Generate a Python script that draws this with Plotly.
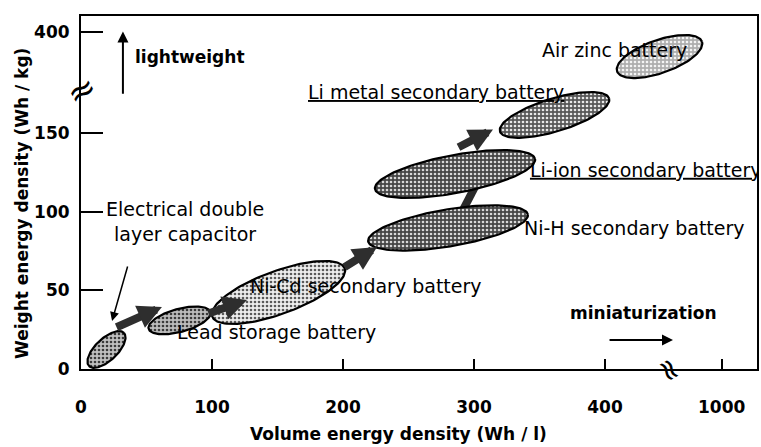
import numpy as np
import plotly.graph_objects as go

# ---------------- data ----------------
# Broken axes: x tick "1000" and y tick "400" sit above the axis breaks.
x_tickvals = [0, 100, 200, 300, 400, 489]
x_ticktext = ["0", "100", "200", "300", "400", "1000"]
y_tickvals = [0, 50, 100, 150, 214]
y_ticktext = ["0", "50", "100", "150", "400"]

batteries = ["Electrical double layer capacitor", "Lead storage battery",
             "Ni-Cd secondary battery", "Ni-H secondary battery",
             "Li-ion secondary battery", "Li metal secondary battery",
             "Air zinc battery"]
# ends of each battery region (volume Wh/l, weight Wh/kg)
vol_low = [6.1, 51.6, 100.2, 219.2, 224.4, 319.8, 409.2]
wt_low = [1.9, 25.6, 33.3, 81.1, 114.4, 151.0, 189.2]
vol_high = [32.8, 98.8, 201.3, 341.1, 346.6, 403.1, 474.0]
wt_high = [22.9, 36.2, 64.0, 98.2, 133.5, 172.0, 208.1]
thickness_px = [22, 23, 43, 37, 38, 33, 33]

# development steps (thick arrows)
step_tail_vol = [26.0, 96.2, 200.0, 287.0]
step_tail_wt = [26.1, 35.0, 64.2, 140.5]
step_head_vol = [61.8, 126.7, 226.0, 314.5]
step_head_wt = [39.4, 43.9, 77.6, 152.2]
link_vol = [291.6, 301.5]   # Ni-H -> Li-ion connector
link_wt = [101.1, 117.0]

# ---------------- layout geometry ----------------
W, H = 761, 447
ML, MR, MT, MB = 81, 4, 16, 78
x_range = [0, 516.0]
y_range = [0, 224.4]
kx = (W - ML - MR) / (x_range[1] - x_range[0])
ky = (H - MT - MB) / (y_range[1] - y_range[0])

fill_bg = ["#c0c0c0", "#bcbcbc", "#eeeeee", "#454545", "#454545", "#585858", "#aeaeae"]
fill_fg = ["#3a3a3a", "#3a3a3a", "#5a5a5a", "#d8d8d8", "#d8d8d8", "#e8e8e8", "#f4f4f4"]


def ellipse(x0, y0, x1, y1, th):
    X0, Y0, X1, Y1 = x0 * kx, y0 * ky, x1 * kx, y1 * ky
    cx, cy = (X0 + X1) / 2, (Y0 + Y1) / 2
    a = np.hypot(X1 - X0, Y1 - Y0) / 2
    ang = np.arctan2(Y1 - Y0, X1 - X0)
    b = th / 2
    t = np.linspace(0, 2 * np.pi, 140)
    ex = cx + a * np.cos(t) * np.cos(ang) - b * np.sin(t) * np.sin(ang)
    ey = cy + a * np.cos(t) * np.sin(ang) + b * np.sin(t) * np.cos(ang)
    return ex / kx, ey / ky


fig = go.Figure()

# connector Ni-H -> Li-ion
fig.add_trace(go.Scatter(x=link_vol, y=link_wt, mode="lines",
                         line=dict(color="#2a2a2a", width=8), hoverinfo="skip",
                         showlegend=False))

for i, name in enumerate(batteries):
    ex, ey = ellipse(vol_low[i], wt_low[i], vol_high[i], wt_high[i], thickness_px[i])
    fig.add_trace(go.Scatter(
        x=ex, y=ey, mode="lines", fill="toself", name=name,
        line=dict(color="black", width=2.2),
        fillcolor=fill_bg[i],
        fillpattern=dict(shape=".", bgcolor=fill_bg[i], fgcolor=fill_fg[i],
                         size=4, solidity=0.35, fillmode="replace"),
        hoverinfo="name", showlegend=False))

LAB = dict(family="DejaVu Sans", size=19, color="black")
BOLD = dict(family="DejaVu Sans", size=17, color="black")

# Li-ion label clipped by the plot frame
fig.add_trace(go.Scatter(x=[342.7], y=[125.2], mode="text",
                         text=["<u>Li-ion secondary battery</u>"],
                         textposition="middle right", textfont=LAB,
                         cliponaxis=True, hoverinfo="skip", showlegend=False))

ann = []
# thick development arrows
for i in range(len(step_tail_vol)):
    ann.append(dict(x=step_head_vol[i], y=step_head_wt[i], ax=step_tail_vol[i], ay=step_tail_wt[i],
                    xref="x", yref="y", axref="x", ayref="y", text="", showarrow=True,
                    arrowhead=2, arrowsize=0.6, arrowwidth=8, arrowcolor="#2e2e2e"))

def label(x, y, text, font, xanchor="left", align="left"):
    ann.append(dict(x=x, y=y, xref="x", yref="y", text=text, showarrow=False,
                    font=font, xanchor=xanchor, yanchor="middle", align=align))

label(350.4, 202.8, "Air zinc battery", LAB)
label(271.0, 176.1, "<u>Li metal secondary battery</u>", LAB, xanchor="center")
label(336.6, 89.6, "Ni-H secondary battery", LAB)
label(79.4, 93.5, "Electrical double<br>layer capacitor", LAB, xanchor="center", align="center")
label(127.5, 52.8, "Ni-Cd secondary battery", LAB)
label(71.8, 23.5, "Lead storage battery", LAB)
label(39.7, 198.3, "<b>lightweight</b>", BOLD)
label(371.8, 35.6, "<b>miniaturization</b>", BOLD)

# thin arrows
ann.append(dict(x=23.7, y=30.5, ax=35.9, ay=66.1, xref="x", yref="y", axref="x", ayref="y",
                text="", showarrow=True, arrowhead=2, arrowsize=1.2, arrowwidth=1.5,
                arrowcolor="black"))
ann.append(dict(x=32.0, y=214.5, ax=32.0, ay=174.0, xref="x", yref="y", axref="x", ayref="y",
                text="", showarrow=True, arrowhead=2, arrowsize=1.1, arrowwidth=2,
                arrowcolor="black"))
ann.append(dict(x=451.9, y=18.4, ax=402.3, ay=18.4, xref="x", yref="y", axref="x", ayref="y",
                text="", showarrow=True, arrowhead=2, arrowsize=1.1, arrowwidth=2,
                arrowcolor="black"))

# axis break marks
ann.append(dict(x=0, y=177.4, xref="x", yref="y", text="≈", showarrow=False,
                font=dict(family="DejaVu Sans", size=34, color="black"), textangle=-30))
ann.append(dict(x=449.6, y=0, xref="x", yref="y", text="≈", showarrow=False,
                font=dict(family="DejaVu Sans", size=30, color="black"), textangle=60))

# axis titles
ann.append(dict(x=(398 - ML) / (W - ML - MR), y=(H - MB - 434) / (H - MT - MB),
                xref="paper", yref="paper", text="<b>Volume energy density (Wh / l)</b>",
                showarrow=False, font=BOLD, xanchor="center", yanchor="middle"))
ann.append(dict(x=(22 - ML) / (W - ML - MR), y=(H - MB - 204) / (H - MT - MB),
                xref="paper", yref="paper", text="<b>Weight energy density (Wh / kg)</b>",
                showarrow=False, font=BOLD, xanchor="center", yanchor="middle", textangle=-90))

fig.update_layout(
    template="none",
    width=W, height=H, margin=dict(l=ML, r=MR, t=MT, b=MB, autoexpand=False),
    paper_bgcolor="white", plot_bgcolor="white",
    annotations=ann,
    xaxis=dict(range=x_range, tickvals=x_tickvals, ticktext=x_ticktext, automargin=False,
               showgrid=False, zeroline=False, showline=True, linecolor="black",
               linewidth=2, mirror=True, ticks="inside", ticklen=10, tickwidth=1.5,
               tickcolor="black", ticklabelstandoff=22,
               tickfont=dict(family="DejaVu Sans", size=17, color="black", weight="bold")),
    yaxis=dict(range=y_range, tickvals=y_tickvals, ticktext=y_ticktext, automargin=False,
               showgrid=False, zeroline=False, showline=True, linecolor="black",
               linewidth=2, mirror=True, ticks="inside", ticklen=22, tickwidth=1.5,
               tickcolor="black", ticklabelstandoff=6,
               tickfont=dict(family="DejaVu Sans", size=17, color="black", weight="bold")),
)

# remove the browser's default 8px page margin so the figure fills the window exactly
fig.write_html("out.html", config={"displayModeBar": False},
               post_script="document.body.style.margin='0';document.body.style.overflow='hidden';")
